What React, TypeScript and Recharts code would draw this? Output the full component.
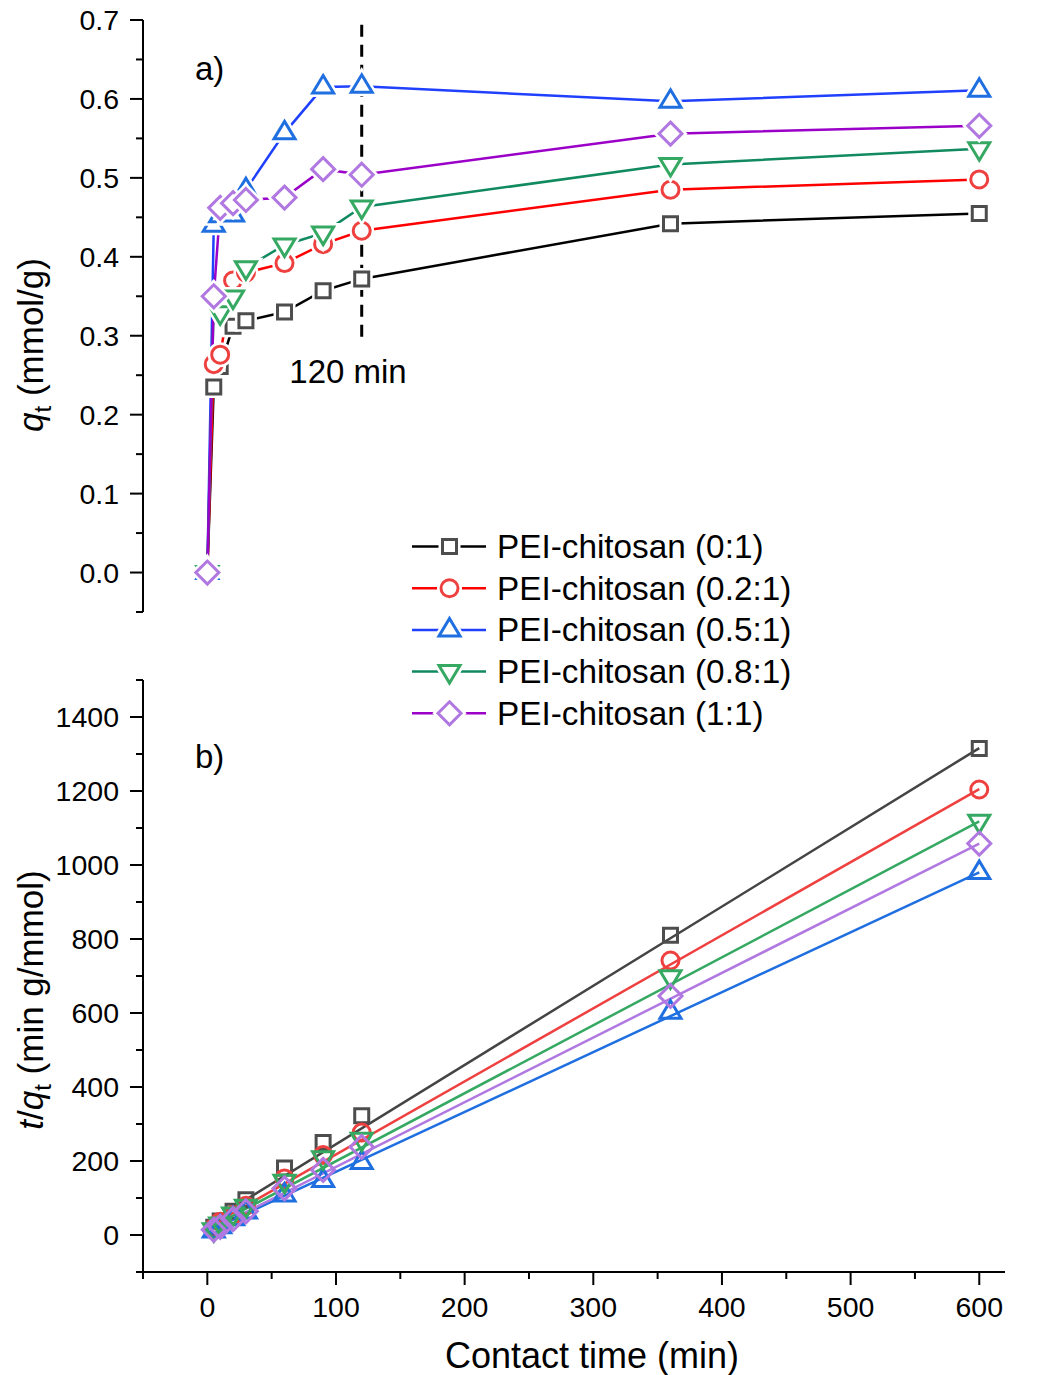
import { ComposedChart, Line, Scatter, XAxis, YAxis, ReferenceLine } from 'recharts';

// contact time (min)
const times = [0, 5, 10, 20, 30, 60, 90, 120, 360, 600];
// q_t (mmol/g) for each PEI:chitosan ratio
const q0 = [0, 0.235, 0.261, 0.312, 0.319, 0.33, 0.357, 0.372, 0.442, 0.455];
const q02 = [0, 0.264, 0.276, 0.37, 0.38, 0.392, 0.416, 0.433, 0.485, 0.498];
const q05 = [0, 0.44, 0.452, 0.453, 0.485, 0.557, 0.615, 0.616, 0.597, 0.611];
const q08 = [0, 0.345, 0.329, 0.349, 0.386, 0.415, 0.43, 0.463, 0.517, 0.537];
const q1 = [0, 0.35, 0.462, 0.468, 0.472, 0.475, 0.511, 0.504, 0.556, 0.566];

// t/q_t (min g/mmol), t = 0 left out
const times2 = [5, 10, 20, 30, 60, 90, 120, 360, 600];
const r0 = [21, 38, 64, 95, 181, 250, 322, 810, 1315];
const r02 = [19, 36, 54, 79, 153, 216, 277, 742, 1204];
const r05 = [11, 22, 44, 62, 108, 147, 196, 602, 980];
const r08 = [14, 30, 57, 78, 145, 209, 259, 698, 1118];
const r1 = [14, 22, 43, 64, 126, 176, 238, 646, 1058];

// linear fit end points
const fitT = [5, 600];
const fit0 = [42, 1316];
const fit02 = [30, 1205];
const fit05 = [17, 980];
const fit08 = [25, 1118];
const fit1 = [18, 1058];

const labels = ['PEI-chitosan (0:1)', 'PEI-chitosan (0.2:1)', 'PEI-chitosan (0.5:1)', 'PEI-chitosan (0.8:1)', 'PEI-chitosan (1:1)'];

const qTicks = [-0.05, 0, 0.05, 0.1, 0.15, 0.2, 0.25, 0.3, 0.35, 0.4, 0.45, 0.5, 0.55, 0.6, 0.65, 0.7];
const rTicks = [-100, 0, 100, 200, 300, 400, 500, 600, 700, 800, 900, 1000, 1100, 1200, 1300, 1400, 1500];
const tTicks = [-50, 0, 50, 100, 150, 200, 250, 300, 350, 400, 450, 500, 550, 600];

type Shape = 'square' | 'circle' | 'up' | 'down' | 'diamond';

const series: { key: string; shape: Shape; line: string; mark: string; fitColor: string; q: number[]; r: number[]; fit: number[] }[] = [
  { key: 's0', shape: 'square', line: '#000000', mark: '#4d4d4d', fitColor: '#444444', q: q0, r: r0, fit: fit0 },
  { key: 's1', shape: 'circle', line: '#ff0000', mark: '#ef4040', fitColor: '#ef4040', q: q02, r: r02, fit: fit02 },
  { key: 's2', shape: 'up', line: '#2040ff', mark: '#1f6fe0', fitColor: '#1f6fe0', q: q05, r: r05, fit: fit05 },
  { key: 's3', shape: 'down', line: '#108a5e', mark: '#35a862', fitColor: '#35a862', q: q08, r: r08, fit: fit08 },
  { key: 's4', shape: 'diamond', line: '#9b00c8', mark: '#b078e0', fitColor: '#b078e0', q: q1, r: r1, fit: fit1 },
];

const topRows = times.map((t, i) => {
  const row: Record<string, number> = { t };
  series.forEach((s) => (row[s.key] = s.q[i]));
  return row;
});

const FONT = '"Liberation Sans", Arial, sans-serif';

function markerPath(shape: Shape, cx: number, cy: number) {
  switch (shape) {
    case 'square':
      return `M${cx - 7},${cy - 7}h14v14h-14Z`;
    case 'circle':
      return `M${cx - 8.5},${cy}a8.5,8.5 0 1,0 17,0a8.5,8.5 0 1,0 -17,0Z`;
    case 'up':
      return `M${cx},${cy - 11.5}L${cx + 10.5},${cy + 6}L${cx - 10.5},${cy + 6}Z`;
    case 'down':
      return `M${cx},${cy + 11.5}L${cx + 10.5},${cy - 6}L${cx - 10.5},${cy - 6}Z`;
    default:
      return `M${cx},${cy - 11.5}L${cx + 11.5},${cy}L${cx},${cy + 11.5}L${cx - 11.5},${cy}Z`;
  }
}

function Marker({ cx, cy, shape, color, halo }: { cx?: number; cy?: number; shape: Shape; color: string; halo?: boolean }) {
  if (cx == null || cy == null || isNaN(cx) || isNaN(cy)) return null;
  const d = markerPath(shape, cx, cy);
  return (
    <g>
      {halo && <path d={d} fill="#fff" stroke="#fff" strokeWidth={8} />}
      <path d={d} fill={halo ? '#fff' : 'none'} stroke={color} strokeWidth={3} />
    </g>
  );
}

const makeYTick = (major: (v: number) => boolean, fmt: (v: number) => string) => (props: any) => {
  const { x, y, payload } = props;
  const v = payload.value as number;
  const isMajor = major(v);
  return (
    <g>
      <line x1={x} x2={x - (isMajor ? 13 : 7)} y1={y} y2={y} stroke="#000" strokeWidth={2} />
      {isMajor && (
        <text x={x - 24} y={y} textAnchor="end" dominantBaseline="central" fontSize={28.5} fontFamily={FONT} fill="#000">
          {fmt(v)}
        </text>
      )}
    </g>
  );
};

const near = (a: number, b: number) => Math.abs(a - b) < 1e-6;
const qTick = makeYTick((v) => v >= 0 && near(Math.round(v * 10) / 10, v), (v) => v.toFixed(1));
const rTick = makeYTick((v) => v >= 0 && v <= 1400 && v % 200 === 0, (v) => String(v));

const XTick = (props: any) => {
  const { x, y, payload } = props;
  const v = payload.value as number;
  const isMajor = v >= 0 && v % 100 === 0;
  return (
    <g>
      <line x1={x} x2={x} y1={y} y2={y + (isMajor ? 13 : 7)} stroke="#000" strokeWidth={2} />
      {isMajor && (
        <text x={x} y={y + 45} textAnchor="middle" fontSize={28.5} fontFamily={FONT} fill="#000">
          {v}
        </text>
      )}
    </g>
  );
};

const axisStyle = { stroke: '#000', strokeWidth: 2 };

function TopPanel() {
  return (
    <ComposedChart width={1038} height={650} data={topRows} margin={{ top: 20, right: 33, bottom: 38, left: 43 }}>
      <XAxis type="number" dataKey="t" domain={[-50, 620]} hide />
      <YAxis
        type="number"
        domain={[-0.05, 0.7]}
        ticks={qTicks}
        interval={0}
        width={100}
        tickSize={0}
        tickMargin={0}
        tickLine={false}
        axisLine={axisStyle}
        tick={qTick}
        allowDataOverflow
      />
      <ReferenceLine
        segment={[
          { x: 120, y: 0.694 },
          { x: 120, y: 0.296 },
        ]}
        stroke="#000"
        strokeWidth={3}
        strokeDasharray="12 8"
        zIndex={350}
      />
      {series.map((s) => (
        <Line
          key={s.key}
          type="linear"
          dataKey={s.key}
          stroke={s.line}
          strokeWidth={2.5}
          isAnimationActive={false}
          activeDot={false}
          dot={(p: any) => <Marker key={`${s.key}-${p.index}`} cx={p.cx} cy={p.cy} shape={s.shape} color={s.mark} halo />}
        />
      ))}
    </ComposedChart>
  );
}

function BottomPanel() {
  return (
    <ComposedChart width={1038} height={725} margin={{ top: 30, right: 33, bottom: 43, left: 43 }}>
      <XAxis
        type="number"
        dataKey="t"
        domain={[-50, 620]}
        ticks={tTicks}
        interval={0}
        height={60}
        tickSize={0}
        tickMargin={0}
        tickLine={false}
        axisLine={axisStyle}
        tick={XTick}
        allowDataOverflow
      />
      <YAxis
        type="number"
        domain={[-100, 1500]}
        ticks={rTicks}
        interval={0}
        width={100}
        tickSize={0}
        tickMargin={0}
        tickLine={false}
        axisLine={axisStyle}
        tick={rTick}
        allowDataOverflow
      />
      {series.map((s) => (
        <Scatter
          key={`pts-${s.key}`}
          data={times2.map((t, i) => ({ t, v: s.r[i] }))}
          dataKey="v"
          isAnimationActive={false}
          shape={(p: any) => <Marker cx={p.cx} cy={p.cy} shape={s.shape} color={s.mark} />}
        />
      ))}
      {series.map((s) => (
        <Line
          key={`fit-${s.key}`}
          data={fitT.map((t, i) => ({ t, v: s.fit[i] }))}
          dataKey="v"
          type="linear"
          stroke={s.fitColor}
          strokeWidth={2.5}
          dot={false}
          activeDot={false}
          isAnimationActive={false}
        />
      ))}
    </ComposedChart>
  );
}

function Overlay() {
  const rowY = [546.5, 588.2, 629.9, 671.6, 713.3];
  return (
    <svg width={1038} height={1375} style={{ position: 'absolute', left: 0, top: 0, pointerEvents: 'none' }} fontFamily={FONT}>
      <text x={195} y={80} fontSize={33}>a)</text>
      <text x={195} y={768} fontSize={33}>b)</text>
      <text x={348} y={383} fontSize={33} textAnchor="middle">120 min</text>

      <text transform="translate(43,345) rotate(-90)" textAnchor="middle" fontSize={35}>
        <tspan fontStyle="italic">q</tspan>
        <tspan fontSize={24} dy={8}>t</tspan>
        <tspan dy={-8}> (mmol/g)</tspan>
      </text>
      <text transform="translate(43,1000) rotate(-90)" textAnchor="middle" fontSize={35}>
        <tspan fontStyle="italic">t</tspan>
        <tspan>/</tspan>
        <tspan fontStyle="italic">q</tspan>
        <tspan fontSize={24} dy={8}>t</tspan>
        <tspan dy={-8}> (min g/mmol)</tspan>
      </text>
      <text x={592} y={1368} fontSize={36} textAnchor="middle">Contact time (min)</text>

      {series.map((s, i) => (
        <g key={s.key}>
          <line x1={412} x2={486} y1={rowY[i]} y2={rowY[i]} stroke={s.line} strokeWidth={2.5} />
          <Marker cx={449.5} cy={rowY[i]} shape={s.shape} color={s.mark} halo />
          <text x={497} y={rowY[i] + 11.5} fontSize={33.3}>{labels[i]}</text>
        </g>
      ))}
    </svg>
  );
}

export default function App() {
  return (
    <div style={{ position: 'absolute', left: 0, top: 0, width: 1038, height: 1375, background: '#fff', fontFamily: FONT, overflow: 'hidden' }}>
      <div style={{ position: 'absolute', left: 0, top: 0 }}>
        <TopPanel />
      </div>
      <div style={{ position: 'absolute', left: 0, top: 650 }}>
        <BottomPanel />
      </div>
      <Overlay />
    </div>
  );
}
